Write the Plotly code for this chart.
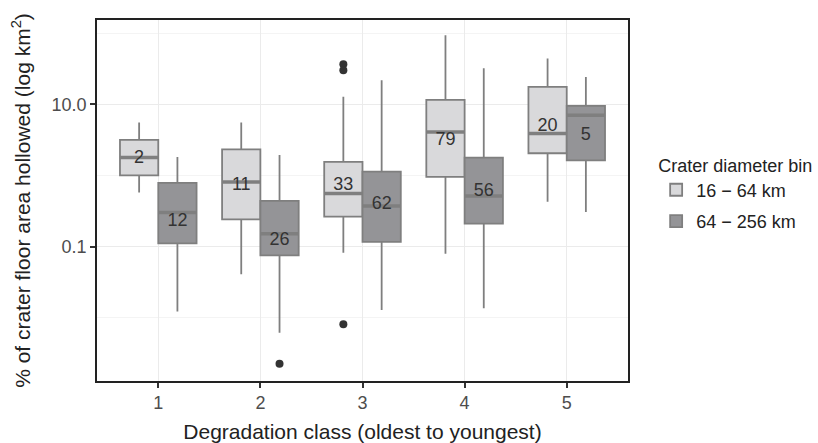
import plotly.graph_objects as go

# ---- data ----
classes = [1, 2, 3, 4, 5]
bin_names = ["16 − 64 km", "64 − 256 km"]

small_low = [0.574, 0.0408, 0.0822, 0.0796, 0.428]
small_q1 = [1.0, 0.242, 0.264, 0.953, 2.05]
small_med = [1.78, 0.81, 0.556, 4.08, 3.87]
small_q3 = [3.15, 2.33, 1.55, 11.5, 17.5]
small_high = [5.53, 5.53, 12.7, 93.3, 43.8]
small_n = [2, 11, 33, 79, 20]
small_label_y = [1.74, 0.711, 0.711, 3.05, 4.91]
small_out_cls = [3, 3, 3]
small_out_y = [36.5, 30.0, 0.00816]

large_low = [0.0123, 0.00618, 0.0129, 0.0136, 0.306]
large_q1 = [0.111, 0.0755, 0.117, 0.21, 1.63]
large_med = [0.301, 0.152, 0.372, 0.514, 7.0]
large_q3 = [0.784, 0.438, 1.13, 1.78, 9.47]
large_high = [1.82, 1.94, 21.7, 32.1, 24.2]
large_n = [12, 26, 62, 56, 5]
large_label_y = [0.229, 0.123, 0.385, 0.604, 3.66]
large_out_cls = [2]
large_out_y = [0.00226]

y_major = [0.1, 10]
y_major_text = ["0.1", "10.0"]
y_minor = [0.01, 1, 100]

# ---- styles ----
DODGE = 0.1875
HALF = 0.1875
FONT = "Liberation Sans, Arial, sans-serif"
light_fill = "#d9d9db"
dark_fill = "#949497"
outline = "#7f7f7f"

fig = go.Figure()

groups = [
    (bin_names[0], small_low, small_q1, small_med, small_q3, small_high, light_fill, -DODGE,
     small_n, small_label_y, small_out_cls, small_out_y),
    (bin_names[1], large_low, large_q1, large_med, large_q3, large_high, dark_fill, DODGE,
     large_n, large_label_y, large_out_cls, large_out_y),
]

for name, lo, q1, med, q3, hi, fill, off, n, ly, ocls, oy in groups:
    fig.add_trace(go.Box(
        name=name, x=classes, lowerfence=lo, q1=q1, median=med, q3=q3, upperfence=hi,
        fillcolor=fill, line=dict(color=outline, width=1.8), offsetgroup=name,
        legendgroup=name, whiskerwidth=0, boxpoints=False, hoverinfo="skip",
    ))

for name, lo, q1, med, q3, hi, fill, off, n, ly, ocls, oy in groups:
    # thicker median bars
    mx, my = [], []
    for c, m in zip(classes, med):
        mx += [c + off - HALF, c + off + HALF, None]
        my += [m, m, None]
    fig.add_trace(go.Scatter(
        x=mx, y=my, mode="lines", line=dict(color=outline, width=3.5),
        showlegend=False, hoverinfo="skip",
    ))
    fig.add_trace(go.Scatter(
        x=[c + off for c in ocls], y=oy, mode="markers",
        marker=dict(color="#333333", size=8), showlegend=False, hoverinfo="skip",
    ))
    fig.add_trace(go.Scatter(
        x=[c + off for c in classes], y=ly, mode="text", text=[str(v) for v in n],
        textfont=dict(family=FONT, size=18, color="#333333"),
        showlegend=False, hoverinfo="skip",
    ))

fig.update_layout(
    width=818, height=443,
    margin=dict(l=97, r=190, t=20, b=62, autoexpand=False),
    paper_bgcolor="white", plot_bgcolor="white",
    boxmode="group", boxgap=0.25, boxgroupgap=0,
    font=dict(family=FONT, size=18, color="#333333"),
    legend=dict(
        title=dict(text="Crater diameter bin", font=dict(size=18, color="#222222")),
        font=dict(size=18, color="#222222"),
        x=1.053, xanchor="left", y=0.645, yanchor="top",
        bgcolor="rgba(0,0,0,0)", tracegroupgap=5,
    ),
    xaxis=dict(
        range=[0.4, 5.6], tickvals=classes, ticktext=[str(c) for c in classes],
        showgrid=True, gridcolor="#ebebeb", gridwidth=1, zeroline=False,
        showline=True, mirror=True, linecolor="#222222", linewidth=1.5,
        ticks="outside", ticklen=5, tickwidth=1.5, tickcolor="#333333",
        tickfont=dict(size=18, color="#4d4d4d"), automargin=False,
        title=dict(text="Degradation class (oldest to youngest)", font=dict(size=21, color="#222222"), standoff=12),
    ),
    yaxis=dict(
        type="log", range=[-2.887, 2.183], tickvals=y_major, ticktext=y_major_text,
        showgrid=True, gridcolor="#ebebeb", gridwidth=1, zeroline=False,
        minor=dict(tickvals=y_minor, showgrid=True, gridcolor="#f4f4f4", gridwidth=1, ticks=""),
        showline=True, mirror=True, linecolor="#222222", linewidth=1.5,
        ticks="outside", ticklen=5, tickwidth=1.5, tickcolor="#333333",
        tickfont=dict(size=18, color="#4d4d4d"), automargin=False,
        title=dict(text="% of crater floor area hollowed (log km<sup>2</sup>)", font=dict(size=21, color="#222222"), standoff=15),
    ),
)

fig.write_html(
    "out.html",
    config={"displayModeBar": False},
    post_script="document.body.style.margin='0';document.body.style.overflow='hidden';",
)
